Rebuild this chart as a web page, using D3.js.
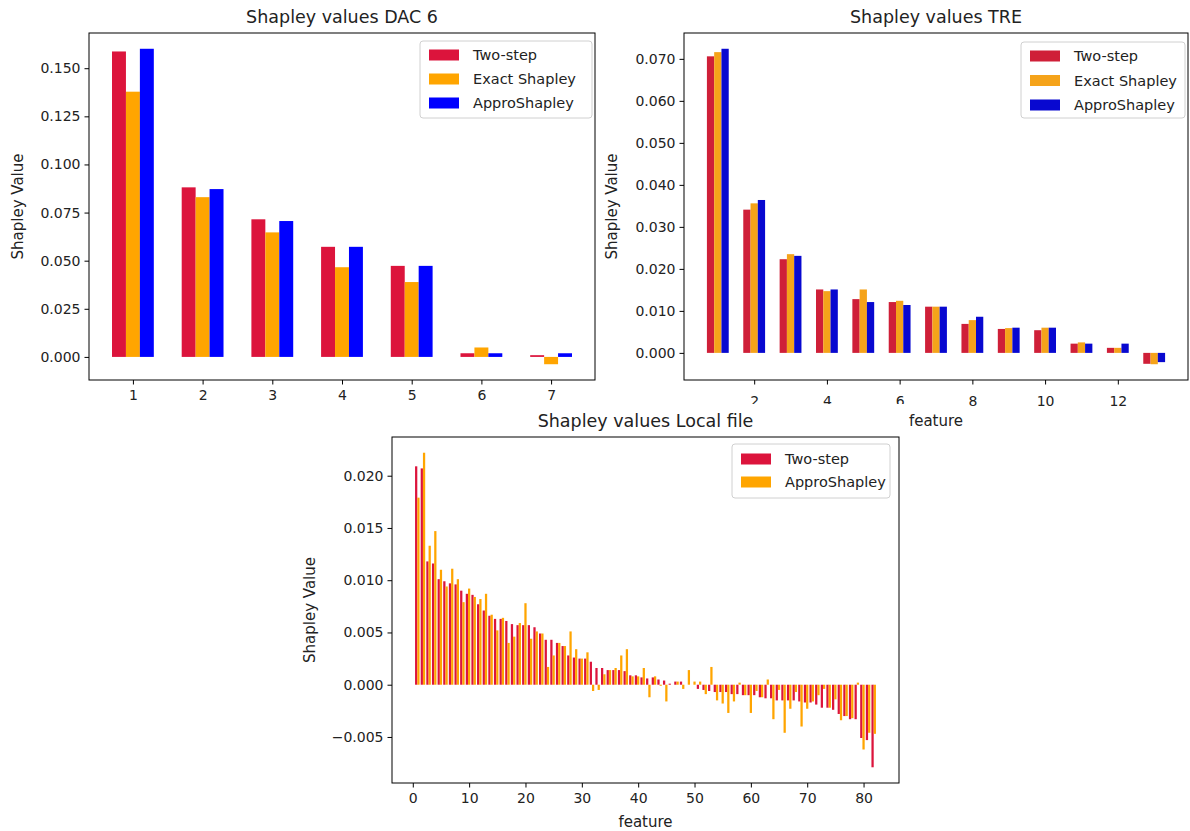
<!DOCTYPE html>
<html>
<head>
<meta charset="utf-8">
<script src="https://cdn.jsdelivr.net/npm/d3@7"></script>
<style>
body { margin: 0; background: #fff; }
svg { font-family: "DejaVu Sans", sans-serif; display: block; }
</style>
</head>
<body>
<svg id="chart" width="1190" height="831"></svg>
<script>

// ---- DAC 6 ----
const dacFeatures = [1, 2, 3, 4, 5, 6, 7]
const dacTwoStep = [0.1587, 0.0881, 0.0715, 0.0572, 0.0473, 0.0019, 0.0009]
const dacExact   = [0.1378, 0.0830, 0.0647, 0.0466, 0.0389, 0.0049, -0.0038]
const dacAppro   = [0.1601, 0.0872, 0.0706, 0.0572, 0.0473, 0.0019, 0.0019]
const dacXTicks = [1, 2, 3, 4, 5, 6, 7]
const dacYTicks = [0, 0.025, 0.05, 0.075, 0.1, 0.125, 0.15]

// ---- TRE ----
const treFeatures = [1, 2, 3, 4, 5, 6, 7, 8, 9, 10, 11, 12, 13]
const treTwoStep = [0.0706, 0.0341, 0.0223, 0.0151, 0.0128, 0.0121, 0.0110, 0.0069, 0.0057, 0.0054, 0.0022, 0.0012, -0.0026]
const treExact   = [0.0716, 0.0356, 0.0235, 0.0147, 0.0151, 0.0124, 0.0110, 0.0078, 0.0059, 0.0060, 0.0025, 0.0012, -0.0027]
const treAppro   = [0.0724, 0.0364, 0.0231, 0.0151, 0.0121, 0.0114, 0.0110, 0.0086, 0.0060, 0.0060, 0.0022, 0.0022, -0.0022]
const treXTicks = [2, 4, 6, 8, 10, 12]
const treYTicks = [0, 0.01, 0.02, 0.03, 0.04, 0.05, 0.06, 0.07]

// ---- Local file (features 1..82) ----
const localTwoStep = [
    0.0209, 0.0207, 0.0118, 0.0116, 0.0101, 0.0099, 0.0097, 0.0096, 0.0090, 0.0087,
    0.0086, 0.0077, 0.0071, 0.0066, 0.0063, 0.0063, 0.0061, 0.0058, 0.0057, 0.0057,
    0.0057, 0.0055, 0.0049, 0.0043, 0.0043, 0.0040, 0.0037, 0.0028, 0.0026, 0.0025,
    0.0025, 0.0022, 0.0016, 0.0016, 0.0014, 0.0014, 0.0014, 0.0013, 0.0009, 0.0009,
    0.0007, 0.0006, 0.0007, 0.0005, 0.0004, 0.0001, 0.0003, 0.0003, 0.0000, 0.0000,
    -0.0004, -0.0005, -0.0006, -0.0007, -0.0007, -0.0007, -0.0009, -0.0009, -0.0010, -0.0010,
    -0.0010, -0.0012, -0.0013, -0.0013, -0.0015, -0.0015, -0.0015, -0.0015, -0.0016, -0.0017,
    -0.0017, -0.0019, -0.0022, -0.0022, -0.0024, -0.0028, -0.0030, -0.0033, -0.0033, -0.0051,
    -0.0053, -0.0079
]
const localAppro = [
    0.0179, 0.0222, 0.0133, 0.0147, 0.0110, 0.0094, 0.0111, 0.0101, 0.0079, 0.0092,
    0.0084, 0.0082, 0.0087, 0.0067, 0.0052, 0.0064, 0.0040, 0.0046, 0.0059, 0.0078,
    0.0044, 0.0051, 0.0049, 0.0017, 0.0028, 0.0040, 0.0037, 0.0051, 0.0034, 0.0025,
    0.0031, -0.0006, -0.0005, 0.0010, 0.0014, 0.0016, 0.0028, 0.0034, 0.0008, 0.0008,
    0.0016, -0.0012, 0.0008, -0.0001, -0.0016, 0.0000, 0.0003, -0.0004, 0.0014, 0.0003,
    0.0003, -0.0009, 0.0017, -0.0015, -0.0018, -0.0027, -0.0016, 0.0002, -0.0010, -0.0027,
    -0.0006, -0.0012, 0.0005, -0.0033, -0.0005, -0.0046, -0.0023, -0.0007, -0.0040, -0.0023,
    -0.0016, -0.0010, -0.0004, -0.0022, -0.0014, -0.0034, -0.0030, -0.0032, 0.0002, -0.0062,
    -0.0046, -0.0047
]
const localFeatures = localTwoStep.map((d, i) => i + 1)
const localXTicks = [0, 10, 20, 30, 40, 50, 60, 70, 80]
const localYTicks = [-0.005, 0, 0.005, 0.01, 0.015, 0.02]

const svg = d3.select("#chart")
const textColor = "#222"

// matplotlib-like 5% margins around the data
function padded(lo, hi) {
    const m = (hi - lo) * 0.05
    return [lo - m, hi + m]
}

function drawPanel(p) {
    const g = svg.append("g")

    const offs = p.series.map(s => s.offset)
    const xlo = d3.min(p.features) + d3.min(offs) - p.barWidth / 2
    const xhi = d3.max(p.features) + d3.max(offs) + p.barWidth / 2
    const allVals = p.series.flatMap(s => s.values)
    const ylo = Math.min(0, d3.min(allVals))
    const yhi = Math.max(0, d3.max(allVals))

    const x = d3.scaleLinear().domain(padded(xlo, xhi)).range([p.box.x0, p.box.x1])
    const y = d3.scaleLinear().domain(padded(ylo, yhi)).range([p.box.y1, p.box.y0])
    const bw = x(p.barWidth) - x(0)

    p.series.forEach(s => {
        g.append("g")
            .attr("fill", s.color)
            .selectAll("rect")
            .data(s.values)
            .join("rect")
            .attr("x", (d, i) => x(p.features[i] + s.offset - p.barWidth / 2))
            .attr("width", bw)
            .attr("y", d => y(Math.max(d, 0)))
            .attr("height", d => Math.abs(y(d) - y(0)))
    })

    // axes
    const xAxis = g.append("g")
        .attr("transform", `translate(0,${p.box.y1})`)
        .call(d3.axisBottom(x).tickValues(p.xTicks).tickFormat(d3.format("d")).tickSize(4.5).tickPadding(p.xPad).tickSizeOuter(0))
    const yAxis = g.append("g")
        .attr("transform", `translate(${p.box.x0},0)`)
        .call(d3.axisLeft(y).tickValues(p.yTicks).tickFormat(d3.format(".3f")).tickSize(4.5).tickPadding(4).tickSizeOuter(0))

    ;[xAxis, yAxis].forEach(a => {
        a.attr("font-family", null).attr("font-size", 14)
        a.select(".domain").remove()
        a.selectAll("line").attr("stroke", "#000")
        a.selectAll("text").attr("fill", textColor)
    })

    g.append("rect")
        .attr("x", p.box.x0).attr("y", p.box.y0)
        .attr("width", p.box.x1 - p.box.x0).attr("height", p.box.y1 - p.box.y0)
        .attr("fill", "none").attr("stroke", "#000").attr("stroke-width", 1)

    // title + labels
    const cx = (p.box.x0 + p.box.x1) / 2
    g.append("text")
        .attr("x", cx).attr("y", p.box.y0 - 10)
        .attr("text-anchor", "middle").attr("font-size", 17.5).attr("fill", textColor)
        .text(p.title)

    g.append("text")
        .attr("transform", `translate(${p.yLabelX},${(p.box.y0 + p.box.y1) / 2}) rotate(-90)`)
        .attr("text-anchor", "middle").attr("dy", "0.35em").attr("font-size", 15).attr("fill", textColor)
        .text("Shapley Value")

    if (p.xLabel) {
        g.append("text")
            .attr("x", cx).attr("y", p.box.y1 + p.xLabelGap)
            .attr("text-anchor", "middle").attr("dy", "0.35em").attr("font-size", 15).attr("fill", textColor)
            .text(p.xLabel)
    }

    // legend
    const L = p.legend
    const lg = g.append("g")
    lg.append("rect")
        .attr("x", L.x).attr("y", L.y).attr("width", L.w).attr("height", L.h)
        .attr("rx", 3).attr("fill", "#fff").attr("fill-opacity", 0.8)
        .attr("stroke", "#d0d0d0").attr("stroke-width", 1)
    const rows = lg.selectAll("g.row")
        .data(p.series)
        .join("g")
        .attr("class", "row")
        .attr("transform", (d, i) => `translate(${L.x + 9},${L.y + L.first + i * L.step})`)
    rows.append("rect")
        .attr("x", 0).attr("y", -5.5).attr("width", 30).attr("height", 11)
        .attr("fill", d => d.color)
    rows.append("text")
        .attr("x", 44).attr("dy", "0.35em").attr("font-size", 14.5).attr("fill", textColor)
        .text(d => d.name)
}

drawPanel({
    box: { x0: 89, x1: 595, y0: 33, y1: 380 },
    features: dacFeatures,
    barWidth: 0.2,
    series: [
        { name: "Two-step", values: dacTwoStep, color: "#dc143c", offset: -0.2 },
        { name: "Exact Shapley", values: dacExact, color: "#ffa500", offset: 0 },
        { name: "ApproShapley", values: dacAppro, color: "#0000ff", offset: 0.2 }
    ],
    xTicks: dacXTicks, yTicks: dacYTicks, xPad: 6,
    title: "Shapley values DAC 6",
    yLabelX: 18,
    legend: { x: 420, y: 41, w: 172, h: 77, first: 14, step: 24 }
})

drawPanel({
    box: { x0: 684, x1: 1188, y0: 33, y1: 380 },
    features: treFeatures,
    barWidth: 0.2,
    series: [
        { name: "Two-step", values: treTwoStep, color: "#cf1f38", offset: -0.2 },
        { name: "Exact Shapley", values: treExact, color: "#f5a31a", offset: 0 },
        { name: "ApproShapley", values: treAppro, color: "#0808d0", offset: 0.2 }
    ],
    xTicks: treXTicks, yTicks: treYTicks, xPad: 12,
    title: "Shapley values TRE",
    xLabel: "feature", xLabelGap: 41,
    yLabelX: 612,
    legend: { x: 1021, y: 42, w: 164, h: 76, first: 14, step: 24.5 }
})

// the lower figure was pasted on top, its white background hides part of the TRE tick labels
svg.append("rect")
    .attr("x", 290).attr("y", 404).attr("width", 615).attr("height", 427)
    .attr("fill", "#fff")

drawPanel({
    box: { x0: 392, x1: 899, y0: 437, y1: 783 },
    features: localFeatures,
    barWidth: 0.4,
    series: [
        { name: "Two-step", values: localTwoStep, color: "#dc143c", offset: -0.4 },
        { name: "ApproShapley", values: localAppro, color: "#ffa500", offset: 0 }
    ],
    xTicks: localXTicks, yTicks: localYTicks, xPad: 6,
    title: "Shapley values Local file",
    xLabel: "feature", xLabelGap: 39,
    yLabelX: 310,
    legend: { x: 732, y: 444, w: 158, h: 54, first: 15, step: 23 }
})

</script>
</body>
</html>
